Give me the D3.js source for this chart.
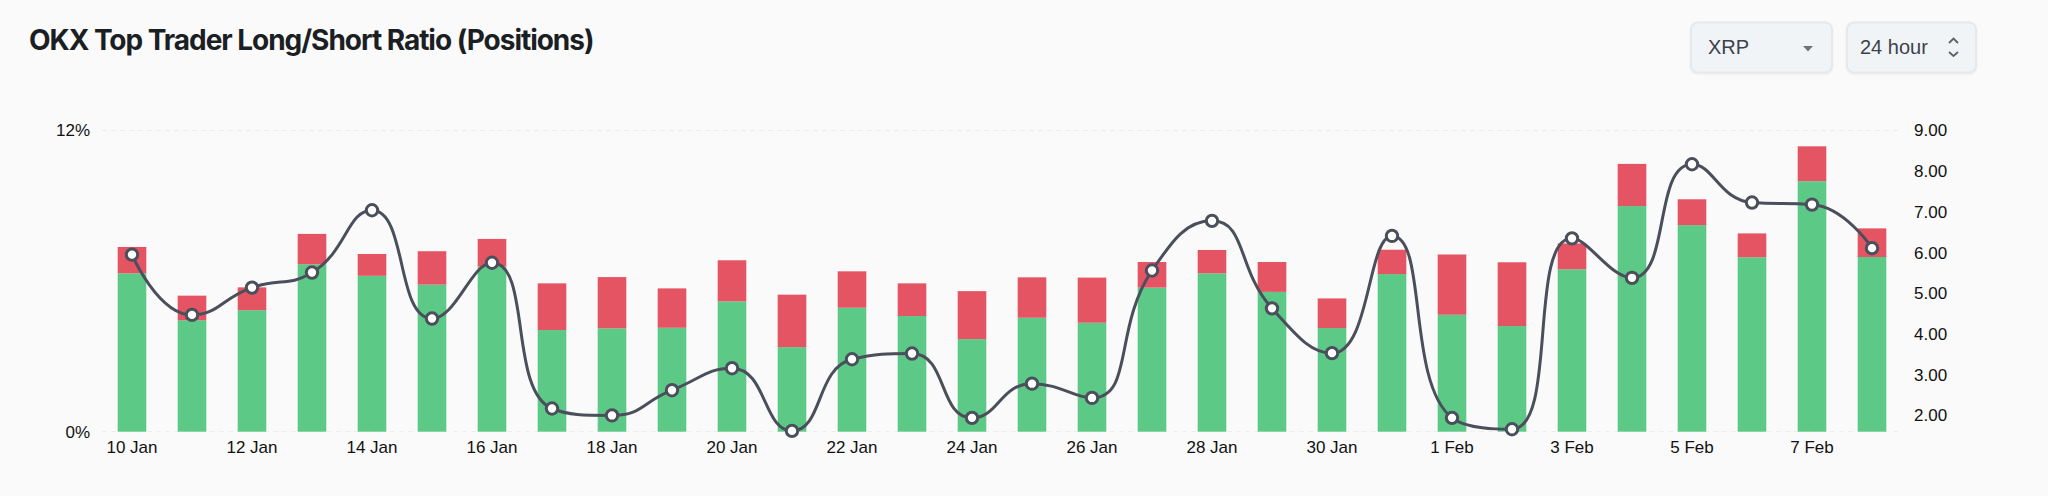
<!DOCTYPE html>
<html>
<head>
<meta charset="utf-8">
<script src="https://cdn.jsdelivr.net/npm/d3@7/dist/d3.min.js"></script>
<style>
html,body{margin:0;padding:0;background:#fafafa;overflow:hidden}
svg{display:block}
text{font-family:"Liberation Sans",Arial,sans-serif}
.axis path,.axis line{display:none}
.axis text{font-size:17px;fill:#111;font-family:"Liberation Sans",Arial,sans-serif}
</style>
</head>
<body>
<svg id="c" width="2048" height="496"></svg>
<script>
const titleText = "OKX Top Trader Long/Short Ratio (Positions)";
const categories = ["10 Jan","11 Jan","12 Jan","13 Jan","14 Jan","15 Jan","16 Jan","17 Jan","18 Jan","19 Jan","20 Jan","21 Jan","22 Jan","23 Jan","24 Jan","25 Jan","26 Jan","27 Jan","28 Jan","29 Jan","30 Jan","31 Jan","1 Feb","2 Feb","3 Feb","4 Feb","5 Feb","6 Feb","7 Feb","8 Feb"];
const longPct = [6.31,4.44,4.84,6.67,6.21,5.86,6.58,4.05,4.12,4.14,5.19,3.37,4.94,4.61,3.69,4.54,4.34,5.74,6.31,5.57,4.13,6.28,4.66,4.21,6.47,8.99,8.23,6.95,9.98,6.96];
const shortPct = [1.05,0.98,0.91,1.21,0.87,1.33,1.10,1.86,2.04,1.57,1.64,2.09,1.45,1.30,1.91,1.61,1.80,1.02,0.93,1.19,1.18,0.97,2.40,2.54,1.03,1.68,1.03,0.95,1.39,1.14];
const ratio = [5.95,4.47,5.14,5.51,7.04,4.38,5.75,2.17,2.00,2.62,3.16,1.62,3.38,3.52,1.94,2.78,2.43,5.56,6.78,4.63,3.53,6.41,1.94,1.66,6.35,5.38,8.17,7.23,7.18,6.11];
const leftTicks = [0,12];
const rightTicks = [2,3,4,5,6,7,8,9];
const xTickLabels = categories.filter((d,i)=>i%2===0);
const controlLabels = ["XRP","24 hour"];

// Smooth curve with segment-length-weighted control points, clamped so it never
// passes the neighbouring extremes (a d3 curve factory).
function curveSegmentSmooth(context, smooth = 0.5) {
  let pts;
  return {
    lineStart(){ pts = []; },
    point(x,y){ pts.push([x,y]); },
    lineEnd(){
      if(!pts.length) return;
      context.moveTo(pts[0][0],pts[0][1]);
      let cp0x = pts[0][0], cp0y = pts[0][1];
      const clamp = (v,a,b)=>Math.max(Math.min(v,Math.max(a,b)),Math.min(a,b));
      for(let i=1;i<pts.length;i++){
        const [px,py]=pts[i-1], [x,y]=pts[i];
        let cp1x=x, cp1y=y, nx0=x, ny0=y;
        if(i<pts.length-1){
          const [nx,ny]=pts[i+1];
          const lenPrev=Math.hypot(x-px,y-py), lenNext=Math.hypot(nx-x,ny-y);
          const r=lenNext/(lenNext+lenPrev);
          nx0=clamp(x+(nx-px)*smooth*r,nx,x);
          ny0=clamp(y+(ny-py)*smooth*r,ny,y);
          cp1x=clamp(x-(nx0-x)*lenPrev/lenNext,px,x);
          cp1y=clamp(y-(ny0-y)*lenPrev/lenNext,py,y);
          nx0=x+(x-cp1x)*lenNext/lenPrev;
          ny0=y+(y-cp1y)*lenNext/lenPrev;
        }
        context.bezierCurveTo(cp0x,cp0y,cp1x,cp1y,x,y);
        cp0x=nx0; cp0y=ny0;
      }
    }
  };
}

const svg = d3.select("#c");
svg.append("rect").attr("width",2048).attr("height",496).attr("fill","#fafafa");

const x = d3.scaleBand().domain(categories).range([102,1902]).paddingInner(0.52).paddingOuter(0.26);
const yL = d3.scaleLinear().domain([0,12]).range([431.7,130.5]);
const yR = d3.scaleLinear().domain([1.6,9]).range([431.7,130.5]);

svg.append("g").selectAll("line").data(leftTicks).join("line")
  .attr("x1",102).attr("x2",1902)
  .attr("y1",d=>yL(d)).attr("y2",d=>yL(d))
  .attr("stroke","#ececec").attr("stroke-width",1).attr("stroke-dasharray","5 4");

const barW = 28.6;
const cx = d => x(d)+x.bandwidth()/2;
svg.append("g").selectAll("rect").data(categories).join("rect")
  .attr("x",d=>cx(d)-barW/2).attr("width",barW)
  .attr("y",(d,i)=>yL(longPct[i])).attr("height",(d,i)=>yL(0)-yL(longPct[i]))
  .attr("fill","#5cc987");
svg.append("g").selectAll("rect").data(categories).join("rect")
  .attr("x",d=>cx(d)-barW/2).attr("width",barW)
  .attr("y",(d,i)=>yL(longPct[i]+shortPct[i])).attr("height",(d,i)=>yL(longPct[i])-yL(longPct[i]+shortPct[i]))
  .attr("fill","#e55463");

const line = d3.line().x((d,i)=>cx(categories[i])).y(d=>yR(d)).curve(curveSegmentSmooth);
svg.append("path").datum(ratio).attr("d",line).attr("fill","none").attr("stroke","#4a4f5b").attr("stroke-width",3);
svg.append("g").selectAll("circle").data(ratio).join("circle")
  .attr("cx",(d,i)=>cx(categories[i])).attr("cy",d=>yR(d)).attr("r",5.7)
  .attr("fill","#fff").attr("stroke","#4a4f5b").attr("stroke-width",3);

const gx = svg.append("g").attr("class","axis").attr("transform","translate(0,431.7)")
  .call(d3.axisBottom(x).tickValues(xTickLabels).tickSize(0).tickPadding(9));
gx.selectAll("text").attr("dy","0.71em");
svg.append("g").attr("class","axis").attr("transform","translate(102,0)")
  .call(d3.axisLeft(yL).tickValues(leftTicks).tickFormat(d=>d+"%").tickSize(0).tickPadding(12));
svg.append("g").attr("class","axis").attr("transform","translate(1902,0)")
  .call(d3.axisRight(yR).tickValues(rightTicks).tickFormat(d3.format(".2f")).tickSize(0).tickPadding(12));

svg.append("text").text(titleText).attr("x",29).attr("y",50)
  .style("font-family","Inter, sans-serif").style("font-weight",700).style("font-size","28px")
  .style("letter-spacing","-1.03px").attr("fill","#1b1f23");

function box(xp,w){
  svg.append("rect").attr("x",xp).attr("y",22.5).attr("width",w).attr("height",50).attr("rx",7)
    .attr("fill","#f1f4f6").attr("stroke","#e6e9eb").attr("stroke-width",2)
    .style("filter","drop-shadow(0 1px 1px rgba(0,0,0,0.05))");
}
box(1691,141); box(1847,129);
svg.append("text").text(controlLabels[0]).attr("x",1708).attr("y",54).attr("font-size",20).attr("fill","#3c424c");
svg.append("text").text(controlLabels[1]).attr("x",1860).attr("y",54).attr("font-size",20).attr("fill","#3c424c");
svg.append("path").attr("d","M1803 46 L1813 46 L1808 51.5 Z").attr("fill","#6e7379");
svg.append("path").attr("d","M1949 43 L1953.5 38.5 L1958 43 M1949 52 L1953.5 56 L1958 52")
  .attr("fill","none").attr("stroke","#5d6269").attr("stroke-width",1.8);
</script>
</body>
</html>
